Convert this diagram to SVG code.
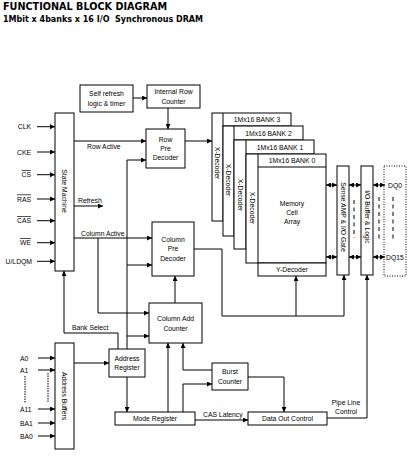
<svg xmlns="http://www.w3.org/2000/svg" width="412" height="456" viewBox="0 0 412 456">
<style>
.b{fill:#fff;stroke:#000;stroke-width:1}
.t{font-family:"Liberation Sans",Arial,sans-serif;font-size:6.8px;fill:#000;text-anchor:middle;dominant-baseline:central}
.l{font-family:"Liberation Sans",Arial,sans-serif;font-size:6.8px;fill:#000;dominant-baseline:central}
.c{fill:none;stroke:#000;stroke-width:1}
.a{marker-end:url(#ah)}
.bd{marker-end:url(#ah);marker-start:url(#ah)}
.d{fill:none;stroke:#000;stroke-width:1;stroke-dasharray:4,3.5}
.ttl{font-family:"DejaVu Sans",Verdana,sans-serif;font-weight:bold;fill:#000}
</style>
<defs>
<marker id="ah" markerUnits="userSpaceOnUse" markerWidth="5" markerHeight="5" refX="5" refY="2.5" orient="auto-start-reverse"><path d="M0,0 L5,2.5 L0,5 z" fill="#000"/></marker>
</defs>
<rect width="412" height="456" fill="#fff"/>
<text class="ttl" x="3" y="9.5" font-size="10" textLength="164" lengthAdjust="spacingAndGlyphs">FUNCTIONAL BLOCK DIAGRAM</text>
<text class="ttl" x="3" y="22" font-size="8" textLength="200" lengthAdjust="spacingAndGlyphs" xml:space="preserve">1Mbit x 4banks x 16 I/O  Synchronous DRAM</text>

<g id="inputs">
<text class="l" x="31" y="126.7" text-anchor="end">CLK</text>
<text class="l" x="31" y="152" text-anchor="end">CKE</text>
<text class="l" x="31" y="174.7" text-anchor="end" text-decoration="overline">CS</text>
<text class="l" x="31" y="199" text-anchor="end" text-decoration="overline">RAS</text>
<text class="l" x="31" y="220.7" text-anchor="end" text-decoration="overline">CAS</text>
<text class="l" x="31" y="242.7" text-anchor="end" text-decoration="overline">WE</text>
<text class="l" x="32" y="261.3" text-anchor="end">U/LDQM</text>
<text class="l" x="20" y="358">A0</text>
<text class="l" x="20" y="370">A1</text>
<text class="l" x="20" y="409">A11</text>
<text class="l" x="20" y="423">BA1</text>
<text class="l" x="20" y="436">BA0</text>
</g>

<g id="state-machine"><rect class="b" x="55" y="113" width="19" height="158"/><text class="t" transform="translate(64.5,191) rotate(90)">State Machine</text></g>
<g id="address-buffers"><rect class="b" x="55" y="343" width="19" height="106"/><text class="t" transform="translate(64.5,396) rotate(90)">Address Buffers</text></g>
<g id="self-refresh"><rect class="b" x="80" y="85" width="53" height="27"/><text class="t" x="106.5" y="93">Self refresh</text><text class="t" x="106.5" y="103">logic &amp; timer</text></g>
<g id="internal-row-counter"><rect class="b" x="147" y="85" width="53" height="23"/><text class="t" x="173.5" y="91.5">Internal Row</text><text class="t" x="173.5" y="101">Counter</text></g>
<g id="row-pre-decoder"><rect class="b" x="146" y="129" width="39" height="39"/><text class="t" x="165.5" y="139">Row</text><text class="t" x="165.5" y="148">Pre</text><text class="t" x="165.5" y="157">Decoder</text></g>
<g id="column-pre-decoder"><rect class="b" x="152" y="222" width="42" height="54"/><text class="t" x="173" y="239">Column</text><text class="t" x="173" y="248.5">Pre</text><text class="t" x="173" y="258">Decoder</text></g>
<g id="column-add-counter"><rect class="b" x="149" y="303" width="53" height="40"/><text class="t" x="175.5" y="318">Column Add</text><text class="t" x="175.5" y="328">Counter</text></g>
<g id="address-register"><rect class="b" x="109" y="349" width="36" height="28"/><text class="t" x="127" y="358">Address</text><text class="t" x="127" y="367.5">Register</text></g>
<g id="mode-register"><rect class="b" x="115" y="412" width="80" height="13"/><text class="t" x="155" y="418.5">Mode Register</text></g>
<g id="burst-counter"><rect class="b" x="212" y="363" width="36" height="27"/><text class="t" x="230" y="371.5">Burst</text><text class="t" x="230" y="381">Counter</text></g>
<g id="data-out-control"><rect class="b" x="248" y="412" width="79" height="13"/><text class="t" x="287.5" y="418.5">Data Out Control</text></g>

<g id="bank3"><rect class="b" x="212" y="113" width="79" height="108"/><line class="c" x1="223" y1="113" x2="223" y2="221"/><line class="c" x1="223" y1="126" x2="291" y2="126"/><text class="t" x="257" y="119.5">1Mx16 BANK 3</text><text class="t" transform="translate(217.5,163) rotate(90)">X-Decoder</text></g>
<g id="bank2"><rect class="b" x="223" y="126" width="80" height="110"/><line class="c" x1="234" y1="126" x2="234" y2="236"/><line class="c" x1="234" y1="140" x2="303" y2="140"/><text class="t" x="268.5" y="133">1Mx16 BANK 2</text><text class="t" transform="translate(228.5,180) rotate(90)">X-Decoder</text></g>
<g id="bank1"><rect class="b" x="234" y="140" width="80" height="109"/><line class="c" x1="246" y1="140" x2="246" y2="249"/><line class="c" x1="246" y1="154" x2="314" y2="154"/><text class="t" x="280" y="147">1Mx16 BANK 1</text><text class="t" transform="translate(240,195) rotate(90)">X-Decoder</text></g>
<g id="bank0"><rect class="b" x="246" y="154" width="80" height="109"/><line class="c" x1="258" y1="154" x2="258" y2="263"/><line class="c" x1="258" y1="167" x2="326" y2="167"/><text class="t" x="292" y="160.5">1Mx16 BANK 0</text><text class="t" transform="translate(252,208) rotate(90)">X-Decoder</text><text class="t" x="292" y="203">Memory</text><text class="t" x="292" y="212">Cell</text><text class="t" x="292" y="221">Array</text></g>
<g id="y-decoder"><rect class="b" x="258" y="263" width="68" height="13"/><text class="t" x="292" y="269.5">Y-Decoder</text></g>
<g id="sense-amp"><rect class="b" x="337" y="166" width="12" height="109"/><text class="t" transform="translate(343,217) rotate(90)">Sense AMP &amp; I/O Gate</text></g>
<g id="io-buffer"><rect class="b" x="361" y="166" width="12" height="109"/><text class="t" transform="translate(367,217) rotate(90)">I/O Buffer &amp; Logic</text></g>
<g id="dq"><rect x="384" y="166" width="22" height="110" fill="none" stroke="#000" stroke-width="1" stroke-dasharray="1,1.5"/><text class="l" x="388" y="185">DQ0</text><text class="l" x="386" y="257">DQ15</text></g>

<g id="connectors">
<line class="c a" x1="37" y1="126.7" x2="55" y2="126.7"/>
<line class="c a" x1="37" y1="152" x2="55" y2="152"/>
<line class="c a" x1="37" y1="174.7" x2="55" y2="174.7"/>
<line class="c a" x1="37" y1="199" x2="55" y2="199"/>
<line class="c a" x1="37" y1="220.7" x2="55" y2="220.7"/>
<line class="c a" x1="37" y1="242.7" x2="55" y2="242.7"/>
<line class="c a" x1="37" y1="261.3" x2="55" y2="261.3"/>
<line class="c a" x1="38" y1="358" x2="55" y2="358"/>
<line class="c a" x1="38" y1="370" x2="55" y2="370"/>
<line class="c a" x1="38" y1="409" x2="55" y2="409"/>
<line class="c a" x1="38" y1="423" x2="55" y2="423"/>
<line class="c a" x1="38" y1="436" x2="55" y2="436"/>
<line class="c" x1="25" y1="376" x2="25" y2="403" stroke-dasharray="1.5,1"/>
<line class="c" x1="48" y1="373" x2="48" y2="402" stroke-dasharray="1.5,1"/>

<line class="c a" x1="133" y1="98" x2="147" y2="98"/>
<line class="c a" x1="168" y1="108" x2="168" y2="129"/>
<line class="c a" x1="74" y1="141" x2="146" y2="141"/>
<text class="l" x="87" y="146.5">Row Active</text>
<line class="c a" x1="74" y1="206" x2="103" y2="206"/>
<text class="l" x="78" y="200">Refresh</text>
<line class="c a" x1="74" y1="238" x2="152" y2="238"/>
<text class="l" x="81" y="233">Column Active</text>
<polyline class="c a" points="98,238 98,313 149,313"/>
<polyline class="c a" points="127,349 127,160 146,160"/>
<line class="c a" x1="127" y1="265" x2="152" y2="265"/>
<line class="c a" x1="127" y1="336" x2="149" y2="336"/>
<line class="c a" x1="127" y1="377" x2="127" y2="412"/>
<polyline class="c a" points="118,349 118,333 64,333 64,271"/>
<text class="l" x="72" y="327.5">Bank Select</text>
<line class="c a" x1="74" y1="363" x2="109" y2="363"/>
<line class="c a" x1="175" y1="303" x2="175" y2="276"/>
<line class="c a" x1="185" y1="141" x2="212" y2="141"/>
<polyline class="c a" points="194,249 222,249 222,316 344,316 344,275"/>
<line class="c a" x1="296" y1="316" x2="296" y2="276"/>
<line class="c a" x1="168" y1="412" x2="168" y2="343"/>
<polyline class="c a" points="212,370 183,370 183,343"/>
<polyline class="c a" points="183,412 183,384 212,384"/>
<line class="c a" x1="195" y1="420" x2="248" y2="420"/>
<text class="l" x="203" y="414.5">CAS Latency</text>
<polyline class="c a" points="248,377 284,377 284,412"/>
<polyline class="c a" points="327,418 367,418 367,275"/>
<text class="t" x="346" y="402">Pipe Line</text>
<text class="t" x="346" y="411">Control</text>
<line class="c bd" x1="326" y1="185" x2="337" y2="185"/>
<line class="c bd" x1="349" y1="185" x2="361" y2="185"/>
<line class="c bd" x1="373" y1="185" x2="385" y2="185"/>
<line class="c bd" x1="326" y1="257" x2="337" y2="257"/>
<line class="c bd" x1="349" y1="257" x2="361" y2="257"/>
<line class="c bd" x1="373" y1="257" x2="385" y2="257"/>
<line class="d" x1="354" y1="200" x2="354" y2="238"/>
<line class="d" x1="379" y1="197" x2="379" y2="240"/>
<line class="d" x1="393" y1="197" x2="393" y2="240"/>
</g>
</svg>
